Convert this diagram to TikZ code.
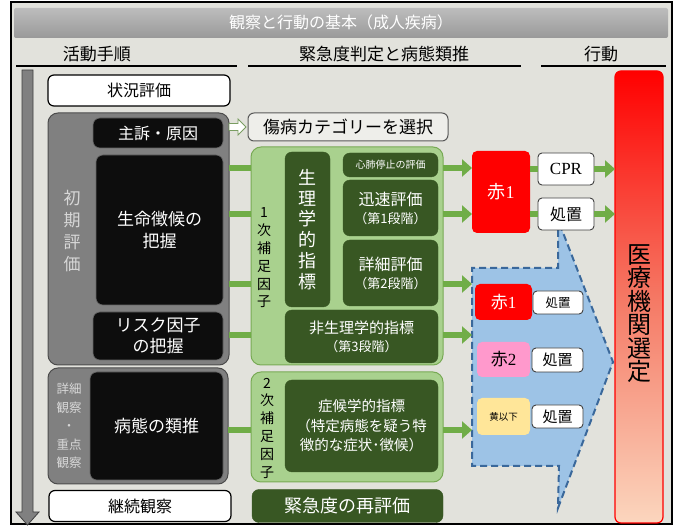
\documentclass[tikz,border=0pt]{standalone}
\usepackage{fontspec}
\setmainfont{Noto Sans CJK JP}
\newfontfamily\latinserif{Liberation Serif}
\usetikzlibrary{arrows.meta}
\newcommand{\fsz}[2]{\fontsize{#1}{#2}\selectfont}
\definecolor{bgc}{RGB}{226,226,220}
\definecolor{grpgray}{RGB}{128,128,128}
\definecolor{lgreen}{RGB}{169,209,142}
\definecolor{mgreen}{RGB}{120,170,85}
\definecolor{dgreen}{RGB}{56,87,35}
\definecolor{agreen}{RGB}{112,173,71}
\definecolor{pinkc}{RGB}{255,153,204}
\definecolor{yelc}{RGB}{255,230,153}
\definecolor{bluefill}{RGB}{157,195,230}
\definecolor{bluedash}{RGB}{58,104,155}
\definecolor{peach}{RGB}{251,214,190}
\definecolor{midred}{RGB}{245,120,100}
\definecolor{labgray}{RGB}{215,215,215}
\begin{document}
\begin{tikzpicture}[x=1pt,y=-1pt,
  every node/.style={inner sep=0pt, outer sep=0pt},
  whitebox/.style={fill=white, draw=black, line width=1.2pt, rounded corners=6pt},
  blackbox/.style={fill=black!95, draw=black!60, line width=0.6pt, rounded corners=7pt, text=white},
  graygrp/.style={fill=grpgray, draw=black!70, line width=1pt, rounded corners=10pt},
  lgrp/.style={fill=lgreen, draw=mgreen, line width=1pt, rounded corners=10pt},
  dbox/.style={fill=dgreen, draw=dgreen, rounded corners=7pt, text=white},
  smallwhite/.style={fill=white, draw=black!75, line width=0.9pt, rounded corners=4pt},
  colbox/.style={rounded corners=5pt},
  gbar/.style={draw=agreen, line width=6pt},
  garrow/.style={gbar, -{Triangle[length=10pt,width=17pt]}},
  hline/.style={draw=black, line width=2pt}]
\useasboundingbox (0,0) rectangle (681,529);
\fill[white] (0,0) rectangle (681,529);
% frame
\draw[fill=bgc, draw=black, line width=1.2pt] (11,2) rectangle (672,524);
% title bar
\shade[top color=gray!52, bottom color=gray!80, rounded corners=2pt] (14,8) rectangle (668,38);
\node[text=white, font=\fsz{16}{18}] (title) at (341,22) {観察と行動の基本（成人疾病）};
% headers
\node[font=\fsz{17}{19}] (h1) at (97,54) {活動手順};
\node[font=\fsz{17}{19}] (h2) at (384,54) {緊急度判定と病態類推};
\node[font=\fsz{17}{19}] (h3) at (601,54) {行動};
\draw[hline] (16,66) -- (237,66);
\draw[hline] (248,66) -- (521,66);
\draw[hline] (541,66) -- (666,66);
% down arrow
\draw[fill=grpgray, draw=black!75, line width=0.8pt] (22,70) -- (33,70) -- (33,512) -- (39,512) -- (27.5,525) -- (16,512) -- (22,512) -- cycle;
% left column
\node[whitebox, minimum width=182pt, minimum height=31pt, font=\fsz{16}{18}] (jokyo) at (139,90.5) {状況評価};
\node[graygrp, minimum width=181pt, minimum height=252pt] (grp1) at (138.5,239) {};
\node[text=labgray, font=\fsz{17}{22}, align=center] (shoki) at (72,231) {初\\期\\評\\価};
\node[blackbox, minimum width=130pt, minimum height=30pt, font=\fsz{16}{18}] (shuso) at (158,133) {主訴・原因};
\node[blackbox, minimum width=127pt, minimum height=150pt, font=\fsz{17}{22}, align=center] (seimei) at (159.5,230) {生命徴候の\\把握};
\node[blackbox, minimum width=130pt, minimum height=48pt, font=\fsz{17}{21}, align=center] (risk) at (158,336) {リスク因子\\の把握};
\node[graygrp, minimum width=180pt, minimum height=116pt] (grp2) at (138,426) {};
\node[text=labgray, font=\fsz{12.5}{18.5}, align=center] (shosaik) at (69,426) {詳細\\観察\\・\\重点\\観察};
\node[blackbox, minimum width=133pt, minimum height=108pt, font=\fsz{17}{20}] (byotai) at (156.5,426) {病態の類推};
\node[whitebox, minimum width=182pt, minimum height=31pt, font=\fsz{16}{18}] (keizoku) at (140,506) {継続観察};
% middle column
\node[fill=bgc!60!white, draw=black!65, line width=1pt, rounded corners=6pt, minimum width=200pt, minimum height=28pt, font=\fsz{17}{19}] (shobyo) at (348,127) {傷病カテゴリーを選択};
\draw[fill=white, draw=mgreen!70!gray, line width=0.8pt] (grp1.east |- shobyo) ++(0,-3.5) -- ++(9,0) -- ++(0,-4.5) -- ++(8,8) -- ++(-8,8) -- ++(0,-4.5) -- ++(-9,0) -- cycle;
\node[lgrp, minimum width=192pt, minimum height=218pt] (g1) at (347,256) {};
\node[font=\fsz{14}{17.8}, align=center] (hosoku1) at (264,258) {1\\次\\補\\足\\因\\子};
\node[dbox, minimum width=45pt, minimum height=155pt, font=\fsz{18}{20.8}, align=center] (seiri) at (307.5,229.5) {生\\理\\学\\的\\指\\標};
\node[dbox, minimum width=95pt, minimum height=24pt, font=\fsz{10}{11}] (sinpai) at (390.5,165) {心肺停止の評価};
\node[dbox, minimum width=95pt, minimum height=56pt, align=center, font=\fsz{13}{18}] (jinsoku) at (390.5,208) {{\fsz{16}{18}迅速評価}\\（第1段階）};
\node[dbox, minimum width=95pt, minimum height=66pt, align=center, font=\fsz{13}{18}] (shosai) at (390.5,273) {{\fsz{16}{18}詳細評価}\\（第2段階）};
\node[dbox, minimum width=153pt, minimum height=53pt, align=center, font=\fsz{13}{18}] (hiseiri) at (361.5,336.5) {{\fsz{15}{18}非生理学的指標}\\（第3段階）};
\node[lgrp, minimum width=192pt, minimum height=110pt] (g2) at (347,427) {};
\node[font=\fsz{14}{17.8}, align=center] (hosoku2) at (267,428) {2\\次\\補\\足\\因\\子};
\node[dbox, minimum width=153pt, minimum height=92pt, align=center, font=\fsz{14.5}{19.5}] (shoko) at (361.5,426) {症候学的指標\\（特定病態を疑う特\\徴的な症状･徴候）};
\node[dbox, minimum width=191pt, minimum height=33pt, font=\fsz{18}{20}] (saihyoka) at (347.5,506) {緊急度の再評価};
% right column
\shade[top color=red, bottom color=peach, middle color=midred, rounded corners=6pt] (615,71) rectangle (663,523);
\node[draw=red, line width=1.2pt, rounded corners=6pt, minimum width=48pt, minimum height=452pt] (column) at (639,297) {};
\node[font=\fsz{24}{23.5}, align=center] (iryo) at (639,313.5) {医\\療\\機\\関\\選\\定};
% callout
\fill[bluefill] (558,230) -- (558,268) -- (472,268) -- (472,466) -- (559,466) -- (558,508) -- (613,362) -- (562,230) -- cycle;
\draw[bluedash, line width=2pt, dash pattern=on 7pt off 4pt] (558,230) -- (558,268) -- (472,268) -- (472,466) -- (559,466) -- (558,508) -- (613,362) -- (562,230);
\coordinate (cl) at (472,300);
\node[colbox, fill=red, minimum width=58pt, minimum height=82pt, text=white, font=\fsz{18}{20}] (aka1) at (501,192) {赤\latinserif 1};
\node[smallwhite, minimum width=56pt, minimum height=32pt, font=\latinserif\fsz{17}{18}] (cpr) at (566,169) {CPR};
\node[smallwhite, minimum width=56pt, minimum height=32pt, font=\fsz{16}{18}] (shochi1) at (566,214) {処置};
\node[colbox, fill=red, minimum width=57pt, minimum height=36pt, text=white, font=\fsz{17}{18}] (aka1s) at (503.5,302) {赤\latinserif 1};
\node[smallwhite, minimum width=50pt, minimum height=23pt, font=\fsz{12.5}{14}] (shochi2) at (558,302.5) {処置};
\node[colbox, fill=pinkc, minimum width=53pt, minimum height=35pt, font=\fsz{17}{18}] (aka2) at (503.5,359.5) {赤\latinserif 2};
\node[smallwhite, minimum width=51pt, minimum height=24pt, font=\fsz{15}{16}] (shochi3) at (557.5,360) {処置};
\node[colbox, fill=yelc, minimum width=53pt, minimum height=37pt, font=\fsz{9.5}{11}] (ki) at (503.5,416.5) {黄以下};
\node[smallwhite, minimum width=51pt, minimum height=23pt, font=\fsz{15}{16}] (shochi4) at (557.5,416.5) {処置};
% rows
\coordinate (r1) at (0,168);
\coordinate (r2) at (0,214);
\coordinate (r3) at (0,284);
\coordinate (r4) at (0,335);
\coordinate (r5) at (0,430);
% bars from left groups into green groups
\draw[gbar] (grp1.east |- r1) -- (g1.west |- r1);
\draw[gbar] (grp1.east |- r2) -- (g1.west |- r2);
\draw[gbar] (grp1.east |- r3) -- (g1.west |- r3);
\draw[gbar] (grp1.east |- r4) -- (g1.west |- r4);
\draw[gbar] (grp2.east |- r5) -- (g2.west |- r5);
% arrows out of green groups
\draw[garrow] (g1.east |- r1) -- (aka1.west |- r1);
\draw[garrow] (g1.east |- r2) -- (aka1.west |- r2);
\draw[garrow] (g1.east |- r3) -- (cl |- r3);
\draw[garrow] (g1.east |- r4) -- (cl |- r4);
\draw[garrow] (g2.east |- r5) -- (cl |- r5);
% action arrows
\draw[gbar] (aka1.east |- cpr) -- (cpr.west);
\draw[gbar] (aka1.east |- shochi1) -- (shochi1.west);
\draw[garrow] (cpr.east) -- (column.west |- cpr);
\draw[garrow] (shochi1.east) -- (column.west |- shochi1);
\end{tikzpicture}
\end{document}
